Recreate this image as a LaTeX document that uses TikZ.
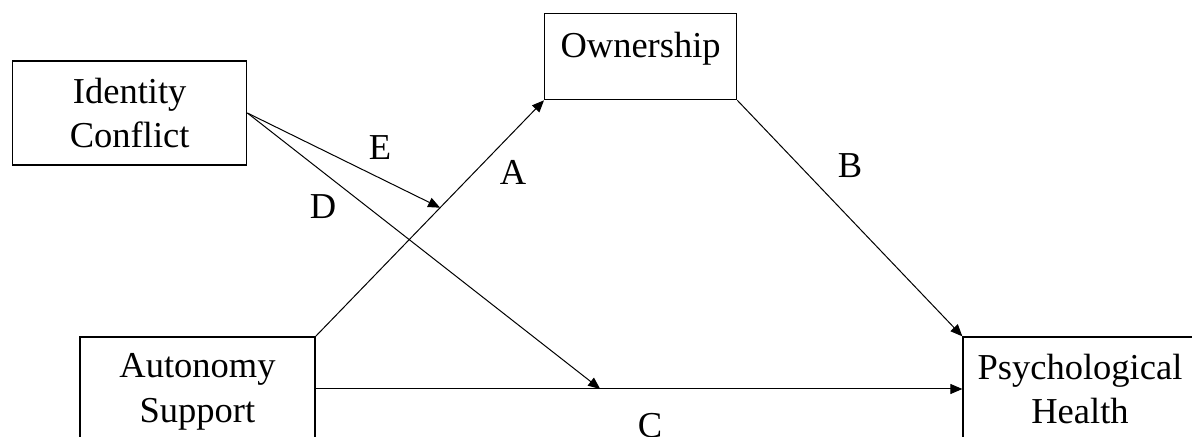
\documentclass[tikz,border=0pt]{standalone}
\usepackage{fontspec}
\setmainfont{Liberation Serif}
\usetikzlibrary{positioning,arrows.meta}

\tikzset{
  varbox/.style={draw, line width=0.65pt, rectangle, inner sep=0pt, align=center},
  linkarrow/.style={-{Triangle[length=6pt,width=5pt]}, line width=0.5pt}
}

\begin{document}
\begin{tikzpicture}[x=0.5pt,y=-0.5pt,font=\fontsize{18.25}{22.25}\selectfont]
			\useasboundingbox (0,0) rectangle (1192,437);
			\clip (0,0) rectangle (1192,437);
			% variables
			\node[varbox, minimum width=117pt, minimum height=52pt] (ident) at (129.7,113) {Identity\\Conflict};
			\node[varbox, anchor=north west, minimum width=96pt, text height=22pt, text depth=21pt] (own) at (544,13) {Ownership};
			\node[varbox, minimum width=117.5pt, minimum height=55pt] (auto) at (197.5,392) {Autonomy\\Support};
			\node[varbox, minimum width=117pt, minimum height=52pt] (psych) at (1080,389) {Psychological\\Health};

			\begin{scope}[linkarrow]
			\draw (auto.north east) -- coordinate[pos=0.545] (etip) (own.south west);
			\draw (own.south east) -- (psych.north west);
			\draw (psych.west -| auto.east) -- coordinate[pos=0.44] (dtip) (psych.west);
			\draw (ident.east) -- (etip);
			\draw (ident.east) -- (dtip);
			\end{scope}

			% path labels
			\node (lblA) at (513,172) {A};
			\node (lblB) at (850,166) {B};
			\node (lblC) at (650,426) {C};
			\node (lblD) at (323,207) {D};
			\node (lblE) at (380,148) {E};
\end{tikzpicture}
\end{document}
